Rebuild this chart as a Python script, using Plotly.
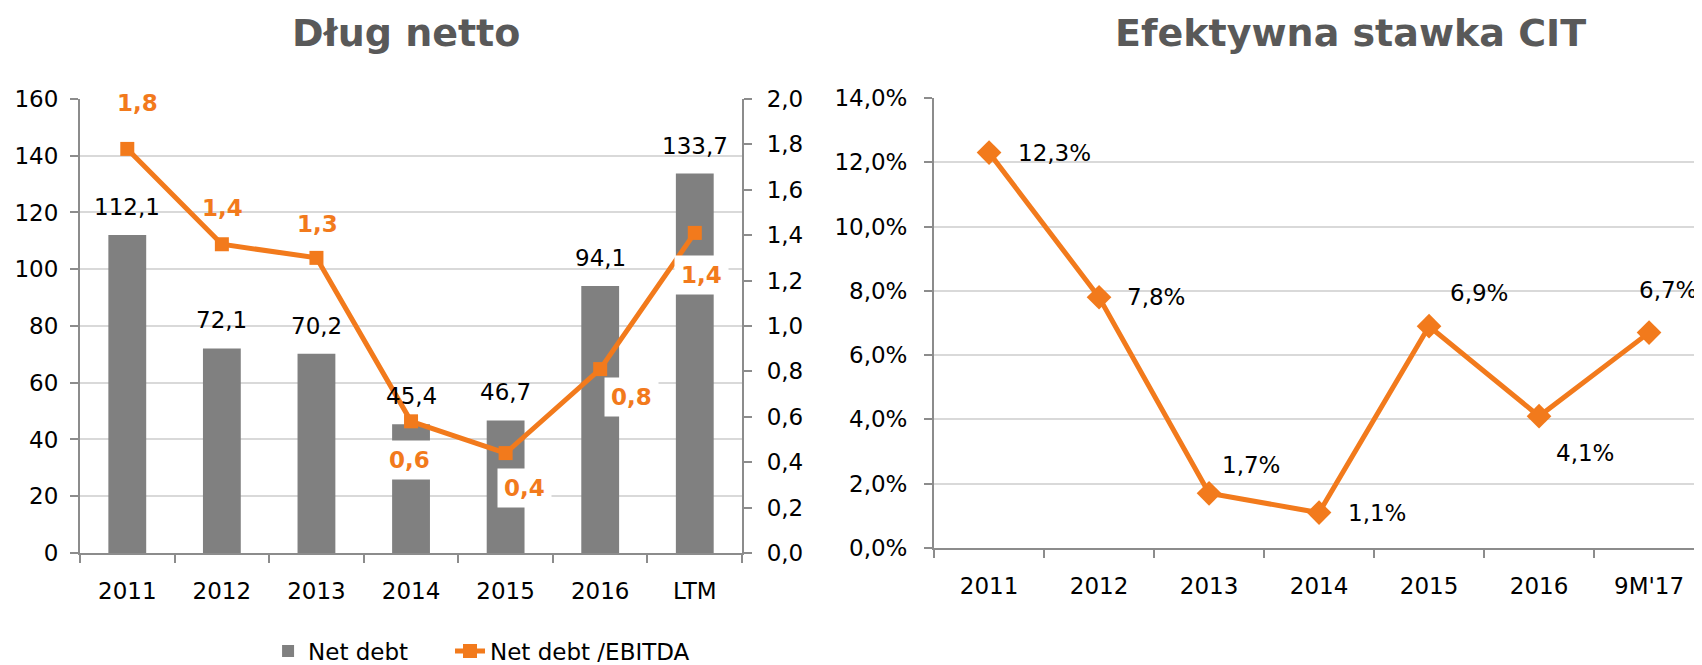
import plotly.graph_objects as go

# ---------------- data ----------------
debt_categories = ["2011", "2012", "2013", "2014", "2015", "2016", "LTM"]
net_debt = [112.1, 72.1, 70.2, 45.4, 46.7, 94.1, 133.7]
net_debt_ebitda = [1.78, 1.36, 1.30, 0.58, 0.44, 0.81, 1.41]

cit_categories = ["2011", "2012", "2013", "2014", "2015", "2016", "9M'17"]
cit_rate = [12.3, 7.8, 1.7, 1.1, 6.9, 4.1, 6.7]

# label placement (pixels) and whether a label sits on a white box
ratio_label_shift = [(10, 46), (1, 36), (1, 34), (-2, -39), (19, -35), (31, -28), (7, -42)]
ratio_label_boxed = [False, False, False, True, True, True, True]
cit_label_shift = [(65, 0), (57, 0), (42, 28), (58, 0), (50, 33), (46, -37), (19, 43)]

ORANGE = "#F27A1C"
GRAY_BAR = "#808080"
GRID = "#D9D9D9"
AXIS = "#8C8C8C"
TITLE = "#595959"
FONT = "DejaVu Sans"
TICK_SIZE = 23


def fmt(v, suffix=""):
    return f"{v:.1f}".replace(".", ",") + suffix


debt_pos = list(range(len(debt_categories)))
cit_pos = list(range(len(cit_categories)))

fig = go.Figure()

fig.add_trace(go.Bar(
    x=debt_pos, y=net_debt, name="Net debt",
    marker=dict(color=GRAY_BAR, line=dict(width=0)),
    xaxis="x", yaxis="y", legend="legend",
))
fig.add_trace(go.Scatter(
    x=debt_pos, y=net_debt_ebitda, name="Net debt /EBITDA",
    mode="lines+markers",
    line=dict(color=ORANGE, width=5),
    marker=dict(symbol="square", size=14, color=ORANGE),
    xaxis="x", yaxis="y2", legend="legend2",
))
fig.add_trace(go.Scatter(
    x=cit_pos, y=cit_rate, name="CIT",
    mode="lines+markers",
    line=dict(color=ORANGE, width=5),
    marker=dict(symbol="diamond", size=19, color=ORANGE),
    xaxis="x3", yaxis="y3", showlegend=False,
))

annotations = []
# bar labels
for p, v in zip(debt_pos, net_debt):
    annotations.append(dict(
        x=p, y=v, xref="x", yref="y", text=fmt(v), showarrow=False,
        yshift=28, yanchor="middle", xanchor="center",
        font=dict(family=FONT, size=TICK_SIZE, color="black"),
    ))
# ratio labels
for p, v, (dx, dy), boxed in zip(debt_pos, net_debt_ebitda, ratio_label_shift, ratio_label_boxed):
    annotations.append(dict(
        x=p, y=v, xref="x", yref="y2", text="<b>" + fmt(v) + "</b>", showarrow=False,
        xshift=dx, yshift=dy, yanchor="middle", xanchor="center",
        font=dict(family=FONT, size=TICK_SIZE, color=ORANGE),
        bgcolor="white" if boxed else "rgba(0,0,0,0)", borderpad=6,
    ))
# CIT labels
for p, v, (dx, dy) in zip(cit_pos, cit_rate, cit_label_shift):
    annotations.append(dict(
        x=p, y=v, xref="x3", yref="y3", text=fmt(v, "%"), showarrow=False,
        xshift=dx, yshift=dy, yanchor="middle", xanchor="center",
        font=dict(family=FONT, size=TICK_SIZE, color="black"),
    ))
# titles
annotations.append(dict(
    x=0.2338, y=0.9624, xref="paper", yref="paper", text="<b>Dług netto</b>",
    showarrow=False, xanchor="center", yanchor="middle",
    font=dict(family=FONT, size=38, color=TITLE),
))
annotations.append(dict(
    x=0.7885, y=0.9624, xref="paper", yref="paper", text="<b>Efektywna stawka CIT</b>",
    showarrow=False, xanchor="center", yanchor="middle",
    font=dict(family=FONT, size=38, color=TITLE),
))

tickfont = dict(family=FONT, size=TICK_SIZE, color="black")


def cat_axis(domain, anchor, labels):
    n = len(labels)
    return dict(
        domain=domain, anchor=anchor, type="linear", range=[-0.5, n - 0.5],
        tickmode="array", tickvals=list(range(n)), ticktext=labels,
        ticks="", showline=True, linecolor=AXIS, linewidth=2, showgrid=False,
        zeroline=False, tickfont=tickfont, ticklabelstandoff=16,
        minor=dict(tickmode="linear", tick0=-0.5, dtick=1, ticks="outside",
                   ticklen=8, tickcolor=AXIS, tickwidth=2, showgrid=False),
    )


legend_common = dict(
    orientation="h", y=0.033, yanchor="middle", xanchor="left",
    font=dict(family=FONT, size=TICK_SIZE, color="black"),
    bgcolor="rgba(0,0,0,0)",
)

fig.update_layout(
    width=1702, height=665,
    margin=dict(l=0, r=0, t=0, b=0, pad=0, autoexpand=False),
    paper_bgcolor="white", plot_bgcolor="white",
    separators=", ",
    font=dict(family=FONT, size=TICK_SIZE, color="black"),
    bargap=0.6,
    showlegend=True,
    legend=dict(x=0.1528, **legend_common),
    legend2=dict(x=0.2597, **legend_common),
    annotations=annotations,
    xaxis=cat_axis([0.0423, 0.4313], "y", debt_categories),
    yaxis=dict(
        domain=[0.1805, 0.8632], anchor="x", range=[0, 160], dtick=20,
        tickformat="d", ticks="outside", ticklen=8, tickcolor=AXIS, tickwidth=2,
        showline=True, linecolor=AXIS, linewidth=2,
        showgrid=True, gridcolor=GRID, gridwidth=2, zeroline=False,
        tickfont=tickfont, ticklabelstandoff=7,
    ),
    yaxis2=dict(
        overlaying="y", side="right", anchor="x", range=[0, 2.0], dtick=0.2,
        tickformat=".1f", ticks="outside", ticklen=8, tickcolor=AXIS, tickwidth=2,
        showline=True, linecolor=AXIS, linewidth=2, showgrid=False, zeroline=False,
        tickfont=tickfont, ticklabelstandoff=10,
    ),
    xaxis3=cat_axis([0.5441, 0.9965], "y3", cit_categories),
    yaxis3=dict(
        domain=[0.1880, 0.8647], anchor="x3", range=[0, 14], dtick=2,
        tickformat=".1f", ticksuffix="%", ticks="outside", ticklen=8, tickcolor=AXIS, tickwidth=2,
        showline=True, linecolor=AXIS, linewidth=2,
        showgrid=True, gridcolor=GRID, gridwidth=2, zeroline=False,
        tickfont=tickfont, ticklabelstandoff=12,
    ),
)

fig.write_html("out.html")
